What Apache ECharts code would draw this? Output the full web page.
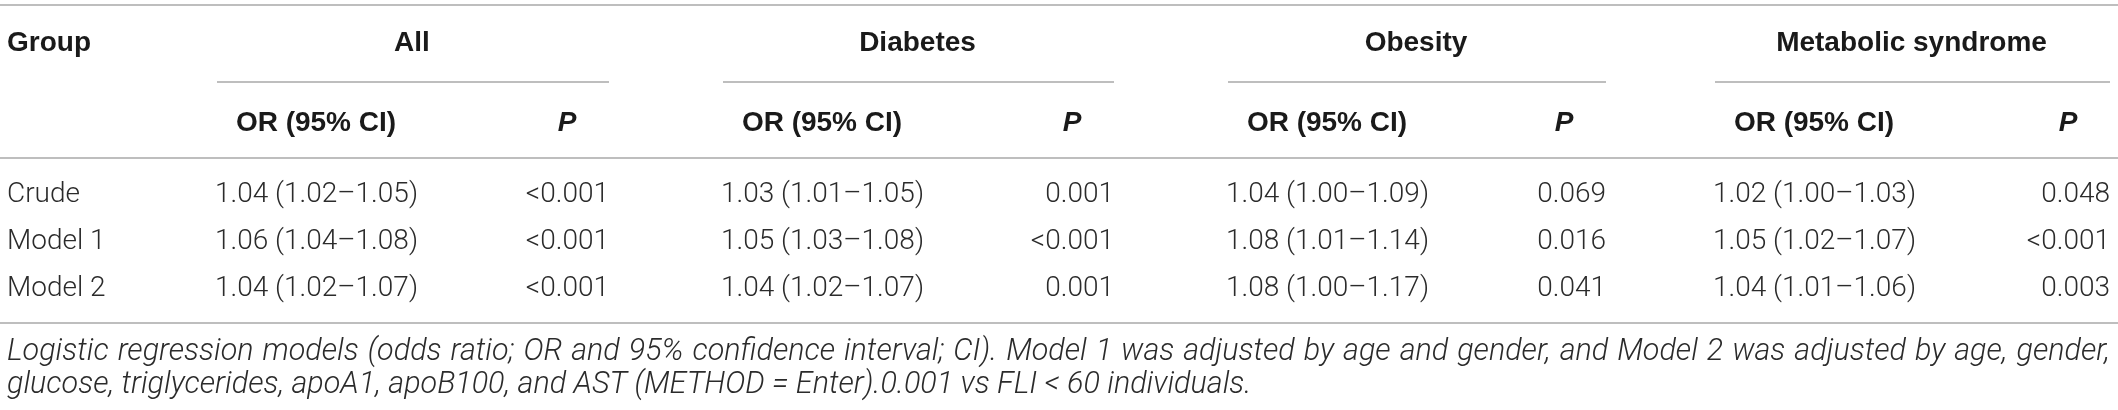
<!DOCTYPE html>
<html>
<head>
<meta charset="utf-8">
<script src="https://cdn.jsdelivr.net/npm/echarts@6/dist/echarts.min.js"></script>
<style>
html, body { margin: 0; padding: 0; background: #fff; }
#table { width: 2118px; height: 410px; }
</style>
</head>
<body>
<div id="table"></div>
<script>
// 表格数据
var groupNames = ['All', 'Diabetes', 'Obesity', 'Metabolic syndrome'];
var rowLabels = ['Crude', 'Model 1', 'Model 2'];
var orAll = ['1.04 (1.02–1.05)', '1.06 (1.04–1.08)', '1.04 (1.02–1.07)'];
var pAll = ['<0.001', '<0.001', '<0.001'];
var orDiabetes = ['1.03 (1.01–1.05)', '1.05 (1.03–1.08)', '1.04 (1.02–1.07)'];
var pDiabetes = ['0.001', '<0.001', '0.001'];
var orObesity = ['1.04 (1.00–1.09)', '1.08 (1.01–1.14)', '1.08 (1.00–1.17)'];
var pObesity = ['0.069', '0.016', '0.041'];
var orMetabolic = ['1.02 (1.00–1.03)', '1.05 (1.02–1.07)', '1.04 (1.01–1.06)'];
var pMetabolic = ['0.048', '<0.001', '0.003'];
var footnote1 = 'Logistic regression models (odds ratio; OR and 95% confidence interval; CI). Model 1 was adjusted by age and gender, and Model 2 was adjusted by age, gender,';
var footnote2 = 'glucose, triglycerides, apoA1, apoB100, and AST (METHOD = Enter).0.001 vs FLI < 60 individuals.';

// 布局
var W = 2118;
var orLeft = [215, 721, 1226, 1713];
var pRight = [609, 1114, 1606, 2110];
var rowY = [195, 242, 289];
var lineColor = '#a8a8a8';
var textColor = '#2b2b2b';
var headColor = '#1a1a1a';
var bodyFont = '300 28px Roboto, "Liberation Sans", sans-serif';
var headFont = 'bold 28px "Liberation Sans", Arial, sans-serif';
var headItalicFont = 'italic bold 28px "Liberation Sans", Arial, sans-serif';
var noteFont = 'italic 300 30.5px Roboto, "Liberation Sans", sans-serif';

var orCols = [orAll, orDiabetes, orObesity, orMetabolic];
var pCols = [pAll, pDiabetes, pObesity, pMetabolic];

function txt(s, x, y, font, align, color) {
	return {
		type: 'text',
		silent: true,
		style: {
			text: s,
			x: x,
			y: y,
			font: font,
			fill: color || textColor,
			textAlign: align || 'left',
			textVerticalAlign: 'middle'
		}
	};
}

function hline(x1, x2, y) {
	return {
		type: 'line',
		silent: true,
		shape: { x1: x1, y1: y, x2: x2, y2: y },
		style: { stroke: lineColor, lineWidth: 1.5 }
	};
}

var els = [];
// 横线
els.push(hline(0, W, 5));
els.push(hline(0, W, 158));
els.push(hline(0, W, 323));
// 表头
els.push(txt('Group', 7, 43, headFont, 'left', headColor));
for (var g = 0; g < groupNames.length; g++) {
	var cx = (orLeft[g] + pRight[g]) / 2;
	els.push(txt(groupNames[g], cx, 43, headFont, 'center', headColor));
	els.push(hline(orLeft[g] + 2, pRight[g], 82));
	els.push(txt('OR (95% CI)', orLeft[g] + 101, 123, headFont, 'center', headColor));
	els.push(txt('P', pRight[g] - 42, 123, headItalicFont, 'center', headColor));
}
// 数据行
for (var r = 0; r < rowLabels.length; r++) {
	els.push(txt(rowLabels[r], 7, rowY[r], bodyFont));
	for (var c = 0; c < orCols.length; c++) {
		els.push(txt(orCols[c][r], orLeft[c], rowY[r], bodyFont, 'left'));
		els.push(txt(pCols[c][r], pRight[c], rowY[r], bodyFont, 'right'));
	}
}
// 脚注，第一行两端对齐
var ctx = document.createElement('canvas').getContext('2d');
ctx.font = noteFont;
var words = footnote1.split(' ');
var total = 0;
for (var i = 0; i < words.length; i++) {
	total += ctx.measureText(words[i]).width;
}
var gap = (2110 - 7 - total) / (words.length - 1);
var wx = 7;
for (var i = 0; i < words.length; i++) {
	els.push(txt(words[i], wx, 352, noteFont, 'left'));
	wx += ctx.measureText(words[i]).width + gap;
}
els.push(txt(footnote2, 7, 385, noteFont, 'left'));

var chart = echarts.init(document.getElementById('table'));
chart.setOption({
	backgroundColor: '#fff',
	animation: false,
	graphic: { elements: els }
});
</script>
</body>
</html>
